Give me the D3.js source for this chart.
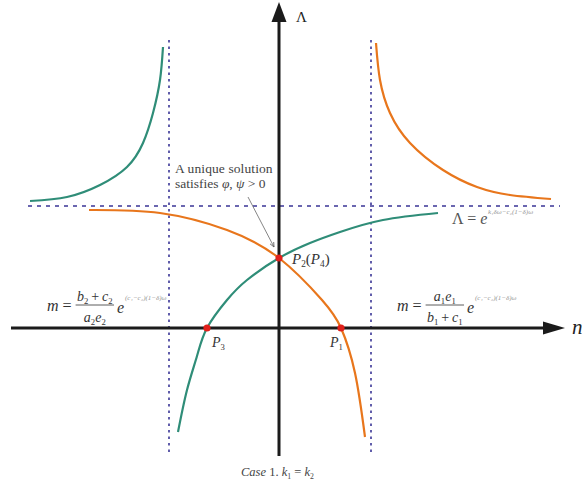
<!DOCTYPE html>
<html>
<head>
<meta charset="utf-8">
<script src="https://cdn.jsdelivr.net/npm/d3@7"></script>
<style>
  body { margin: 0; background: #fff; }
</style>
</head>
<body>
<div id="chart"></div>
<script>
// Curves, in plot units (origin where the axes cross)
const tealLower = [[-10.1,-10.4],[-9.2,-6.2],[-8.2,-2.8],[-7.2,0],[-5.2,2.8],[-3.2,4.8],[0,7.0],[3.1,8.5],[6.1,9.6],[10.4,10.8],[15.9,11.5]];
const orangeLower = [[-19,11.8],[-11.9,11.5],[-5.2,9.8],[0,7.0],[4.3,2.8],[6.2,0],[7.6,-4.5],[8.6,-10.9]];
const tealUpper = [[-24.9,12.7],[-21.2,13.1],[-17.9,14.3],[-15.2,16.1],[-13.6,18.5],[-12.6,21.5],[-11.9,24.8],[-11.6,28.1]];
const orangeUpper = [[9.7,28.5],[10.1,24.8],[11.1,21.5],[13.1,18.5],[16.4,15.8],[19.8,14.1],[23.1,13.3],[27.2,12.9]];

// asymptotes
const asymX = [-11.0, 9.2];
const asymY = 12.2;

// intersection points
const points = [
  { id: "P1", x: 6.2, y: 0 },
  { id: "P2", x: 0, y: 7.0 },
  { id: "P3", x: -7.2, y: 0 }
];

const width = 582, height = 491;
const x = d3.scaleLinear().domain([-27, 30]).range([9, 579]);
const y = d3.scaleLinear().domain([-13, 33]).range([458, -2]);

const svg = d3.select("#chart").append("svg")
  .attr("width", width).attr("height", height)
  .attr("font-family", "'Liberation Serif', 'Times New Roman', 'DejaVu Serif', serif");

const teal = "#2f8d78", orange = "#e8761c", blue = "#3a3596", ink = "#1b1b1b";

// dotted asymptotes
svg.selectAll(".vasym").data(asymX).enter().append("line")
  .attr("x1", d => x(d)).attr("x2", d => x(d))
  .attr("y1", y(28.8)).attr("y2", y(-12.8))
  .attr("stroke", blue).attr("stroke-width", 1.6)
  .attr("stroke-dasharray", "2.5,4");
svg.append("line")
  .attr("x1", x(-25.1)).attr("x2", x(28.1))
  .attr("y1", y(asymY)).attr("y2", y(asymY))
  .attr("stroke", blue).attr("stroke-width", 1.6)
  .attr("stroke-dasharray", "4,5");

// axes with arrow heads
svg.append("line")
  .attr("x1", x(-26.8)).attr("x2", x(26.8))
  .attr("y1", y(0)).attr("y2", y(0))
  .attr("stroke", ink).attr("stroke-width", 3);
svg.append("line")
  .attr("x1", x(0)).attr("x2", x(0))
  .attr("y1", y(-12.8)).attr("y2", y(30.8))
  .attr("stroke", ink).attr("stroke-width", 3);
svg.append("path")
  .attr("d", `M${x(28.6)},${y(0)} L${x(26.4)},${y(0) - 6.5} L${x(26.4)},${y(0) + 6.5} Z`)
  .attr("fill", ink);
svg.append("path")
  .attr("d", `M${x(0)},${y(32.6)} L${x(0) - 7.5},${y(30.6)} L${x(0) + 7.5},${y(30.6)} Z`)
  .attr("fill", ink);

// curves
const line = d3.line().x(d => x(d[0])).y(d => y(d[1])).curve(d3.curveNatural);
[[tealLower, teal], [tealUpper, teal], [orangeLower, orange], [orangeUpper, orange]].forEach(([pts, c]) => {
  svg.append("path").attr("d", line(pts))
    .attr("fill", "none").attr("stroke", c).attr("stroke-width", 2.2);
});

// intersection markers
svg.selectAll(".pt").data(points).enter().append("circle")
  .attr("cx", d => x(d.x)).attr("cy", d => y(d.y)).attr("r", 3.6)
  .attr("fill", "#e0201b");

// small helper for inline math: [text, kind] with kind i / n / sub
function mathText(px, py, parts, size, color) {
  const t = svg.append("text").attr("x", px).attr("y", py)
    .attr("font-size", size).attr("fill", color || "#222");
  let shifted = 0;
  parts.forEach(([s, k]) => {
    const sp = t.append("tspan").text(s);
    if (k === "i") sp.attr("font-style", "italic");
    if (k === "sub") {
      sp.attr("font-size", size * 0.62).attr("dy", 3 - shifted);
      shifted = 3;
    } else if (shifted) {
      sp.attr("dy", -shifted);
      shifted = 0;
    }
  });
  return t;
}

// point labels
mathText(x(-7.2) + 5, y(0) + 19, [["P", "i"], ["3", "sub"]], 14, "#333");
mathText(x(6.2) - 11, y(0) + 19, [["P", "i"], ["1", "sub"]], 14, "#333");
mathText(x(0) + 13, y(7.0) + 6, [["P", "i"], ["2", "sub"], ["(", "n"], ["P", "i"], ["4", "sub"], [")", "n"]], 15, "#333");

// axis labels
svg.append("text").attr("x", x(1.7)).attr("y", y(30.6)).attr("font-size", 15).attr("fill", "#222").text("Λ");
svg.append("text").attr("x", x(29.3)).attr("y", y(0) + 6).attr("font-size", 21)
  .attr("font-style", "italic").attr("fill", "#222").text("n");

// annotation
svg.append("text").attr("x", 175).attr("y", 173).attr("font-size", 13.5).attr("fill", "#444")
  .attr("letter-spacing", 0.1).text("A unique solution");
mathText(175, 188, [["satisfies ", "n"], ["φ", "i"], [", ", "n"], ["ψ", "i"], [" > 0", "n"]], 13.5, "#444");
svg.append("defs").append("marker").attr("id", "ah")
  .attr("viewBox", "0 0 10 10").attr("refX", 9).attr("refY", 5)
  .attr("markerWidth", 7).attr("markerHeight", 7).attr("orient", "auto")
  .append("path").attr("d", "M0,1 L9,5 L0,9").attr("fill", "none").attr("stroke", "#555").attr("stroke-width", 1.3);
svg.append("line")
  .attr("x1", x(-3.1)).attr("y1", y(13.1)).attr("x2", x(-0.5)).attr("y2", y(8.1))
  .attr("stroke", "#666").attr("stroke-width", 0.8).attr("marker-end", "url(#ah)");

// fraction formula m = num/den e^{...}
function fraction(px, py, num, den, sup) {
  const lhs = mathText(px, py + 4, [["m", "i"], [" =", "n"]], 16, "#333");
  const lw = lhs.node().getBBox().width;
  const tn = mathText(0, py - 6, num, 14, "#333");
  const td = mathText(0, py + 15, den, 14, "#333");
  const w = Math.max(tn.node().getBBox().width, td.node().getBBox().width) + 3;
  const cx = px + lw + 4 + w / 2;
  tn.attr("x", cx).attr("text-anchor", "middle");
  td.attr("x", cx).attr("text-anchor", "middle");
  svg.append("line").attr("x1", cx - w / 2).attr("x2", cx + w / 2)
    .attr("y1", py - 2).attr("y2", py - 2).attr("stroke", "#333").attr("stroke-width", 0.8);
  const ex = cx + w / 2 + 3;
  mathText(ex, py + 6, [["e", "i"]], 16, "#333");
  svg.append("text").attr("x", ex + 8).attr("y", py - 7).attr("font-size", 7)
    .attr("font-style", "italic").attr("fill", "#999").text(sup);
}
const thin = "\u2009+\u2009";
fraction(47, 307, [["b", "i"], ["2", "sub"], [thin, "n"], ["c", "i"], ["2", "sub"]],
  [["a", "i"], ["2", "sub"], ["e", "i"], ["2", "sub"]], "(c₁−c₂)(1−δ)ω");
fraction(397, 307, [["a", "i"], ["1", "sub"], ["e", "i"], ["1", "sub"]],
  [["b", "i"], ["1", "sub"], [thin, "n"], ["c", "i"], ["1", "sub"]], "(c₁−c₂)(1−δ)ω");

// horizontal asymptote label
mathText(452, 224, [["Λ", "n"], [" = ", "n"], ["e", "i"]], 16, "#555");
svg.append("text").attr("x", 488).attr("y", 214).attr("font-size", 7)
  .attr("font-style", "italic").attr("fill", "#999").text("k₁δω−c₂(1−δ)ω");

// caption
mathText(241, 476, [["Case", "i"], [" 1.  ", "n"], ["k", "i"], ["1", "sub"], [" = ", "n"], ["k", "i"], ["2", "sub"]], 12.5, "#444");
</script>
</body>
</html>
